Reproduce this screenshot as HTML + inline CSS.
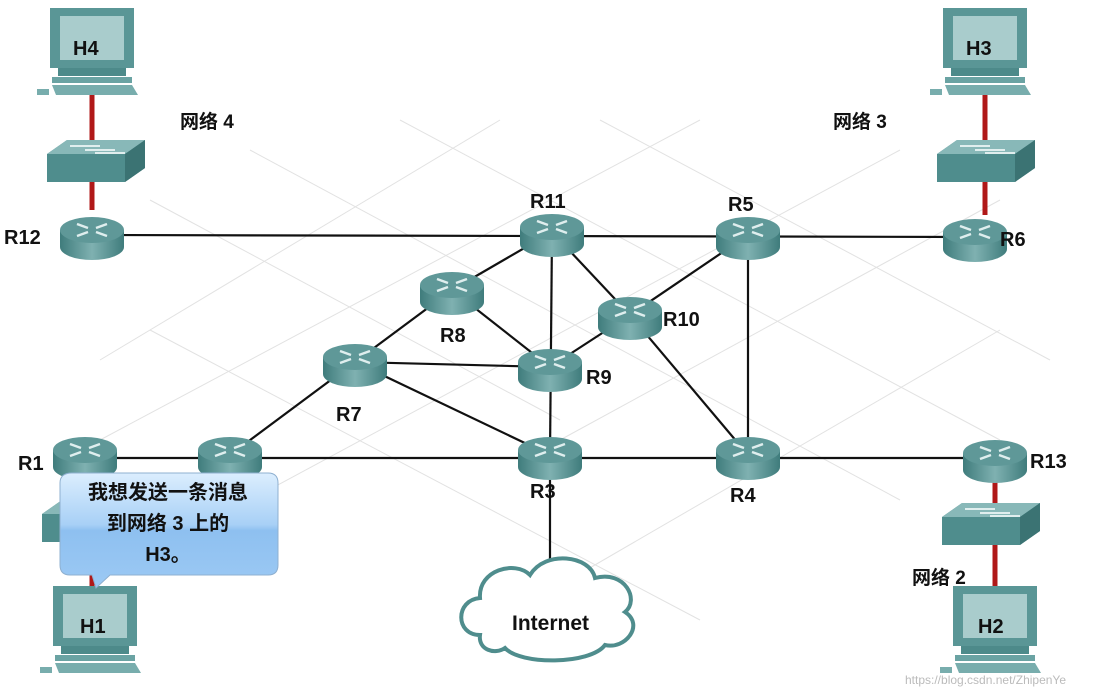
<!DOCTYPE html>
<html><head><meta charset="utf-8"><style>
body{margin:0;background:#fff}
svg text{font-family:"Liberation Sans","Noto Sans CJK SC",sans-serif;font-weight:bold}
</style></head><body>
<svg width="1113" height="692" viewBox="0 0 1113 692" xmlns="http://www.w3.org/2000/svg">
<defs>
<linearGradient id="rb" x1="0" x2="1"><stop offset="0" stop-color="#3f7c7c"/><stop offset=".5" stop-color="#7fb1b1"/><stop offset="1" stop-color="#3f7c7c"/></linearGradient>
<linearGradient id="cb" x1="0" y1="0" x2="0" y2="1"><stop offset="0" stop-color="#dceefe"/><stop offset=".45" stop-color="#a8d0f6"/><stop offset=".5" stop-color="#8ec0f0"/><stop offset="1" stop-color="#9cc9f4"/></linearGradient>
<g id="rt">
<path d="M-32,-7 L-32,10 A32,13 0 0 0 32,10 L32,-7 Z" fill="url(#rb)"/>
<ellipse cx="0" cy="-7" rx="32" ry="13" fill="#5f9898"/>
<path d="M-15,-13 L-4,-9 M4,-5 L15,-1 M15,-13 L4,-9 M-4,-5 L-15,-1" stroke="#dfeeee" stroke-width="2.5"/>
</g>
<g id="sw">
<path d="M-48,-8 L-28,-22 L50,-22 L50,6 L30,20 L-48,20 Z" fill="#4f8d8d"/>
<path d="M-48,-8 L-28,-22 L50,-22 L30,-8 Z" fill="#88b8b8"/>
<path d="M30,-8 L50,-22 L50,6 L30,20 Z" fill="#3b7373"/>
<path d="M-25,-16 L5,-16 M-10,-12 L20,-12 M0,-9 L30,-9" stroke="#e0eeee" stroke-width="2"/>
</g>
<g id="pc">
<rect x="-42" y="-42" width="84" height="60" fill="#5a9696"/>
<rect x="-32" y="-34" width="64" height="44" fill="#a9cccc"/>
<rect x="-34" y="18" width="68" height="8" fill="#4d8a8a"/>
<rect x="-40" y="27" width="80" height="6" fill="#6aa3a3"/>
<path d="M-40,35 L40,35 L46,45 L-36,45 Z" fill="#78adad"/>
<rect x="-55" y="39" width="12" height="6" fill="#78adad"/>
</g>
</defs>
<g stroke="#e2e2e2" stroke-width="1" fill="none">
<path d="M150,200 L560,420 M250,150 L900,500 M400,120 L1000,440 M150,330 L700,620 M600,120 L1050,360"/>
<path d="M1000,200 L560,440 M900,150 L250,500 M700,120 L100,440 M1000,330 L500,620 M500,120 L100,360"/>
</g>
<g stroke="#b01818" stroke-width="5">
<line x1="92" y1="95" x2="92" y2="210"/><line x1="985" y1="95" x2="985" y2="215"/>
<line x1="995" y1="480" x2="995" y2="600"/><line x1="92" y1="480" x2="92" y2="600"/>
</g>
<g stroke="#111" stroke-width="2.2">
<line x1="92" y1="235" x2="975" y2="237"/>
<line x1="552" y1="232" x2="452" y2="290"/>
<line x1="552" y1="232" x2="550" y2="455"/>
<line x1="552" y1="232" x2="630" y2="315"/>
<line x1="748" y1="235" x2="630" y2="315"/>
<line x1="748" y1="235" x2="748" y2="455"/>
<line x1="452" y1="290" x2="355" y2="362"/>
<line x1="452" y1="290" x2="550" y2="367"/>
<line x1="355" y1="362" x2="550" y2="367"/>
<line x1="355" y1="362" x2="550" y2="455"/>
<line x1="355" y1="362" x2="230" y2="455"/>
<line x1="630" y1="315" x2="550" y2="367"/>
<line x1="630" y1="315" x2="748" y2="455"/>
<line x1="85" y1="458" x2="995" y2="458"/>
<line x1="550" y1="455" x2="550" y2="560"/>
</g>
<use href="#pc" x="92" y="50"/><use href="#pc" x="985" y="50"/>
<use href="#pc" x="95" y="628"/><use href="#pc" x="995" y="628"/>
<use href="#sw" x="95" y="162"/><use href="#sw" x="985" y="162"/>
<use href="#sw" x="990" y="525"/><use href="#sw" x="90" y="522"/>
<use href="#rt" x="92" y="237"/><use href="#rt" x="552" y="234"/><use href="#rt" x="748" y="237"/>
<use href="#rt" x="975" y="239"/><use href="#rt" x="452" y="292"/><use href="#rt" x="630" y="317"/>
<use href="#rt" x="355" y="364"/><use href="#rt" x="550" y="369"/><use href="#rt" x="85" y="457"/>
<use href="#rt" x="230" y="457"/><use href="#rt" x="550" y="457"/><use href="#rt" x="748" y="457"/>
<use href="#rt" x="995" y="460"/>
<path d="M480,635 C455,635 455,600 480,598 C478,570 515,560 530,575 C545,550 590,555 595,578 C625,570 640,600 625,612 C645,625 625,650 605,645 C590,665 520,665 505,648 C495,655 478,650 480,635 Z" fill="#fff" stroke="#4f8d8d" stroke-width="4"/>
<g font-size="20" fill="#111">
<text x="73" y="55">H4</text><text x="966" y="55">H3</text>
<text x="80" y="633">H1</text><text x="978" y="633">H2</text>
<text x="180" y="128" font-size="19">网络 4</text><text x="833" y="128" font-size="19">网络 3</text>
<text x="912" y="584" font-size="19">网络 2</text>
<text x="4" y="244">R12</text><text x="530" y="208">R11</text><text x="728" y="211">R5</text>
<text x="1000" y="246">R6</text><text x="440" y="342">R8</text><text x="663" y="326">R10</text>
<text x="586" y="384">R9</text><text x="336" y="421">R7</text><text x="18" y="470">R1</text>
<text x="530" y="498">R3</text><text x="730" y="502">R4</text><text x="1030" y="468">R13</text>
<text x="512" y="630" font-size="21">Internet</text>
</g>
<path d="M72,473 L268,473 Q278,473 278,483 L278,565 Q278,575 268,575 L110,575 L96,588 L92,575 L70,575 Q60,575 60,565 L60,483 Q60,473 72,473 Z" fill="url(#cb)" stroke="#8fb0d0" stroke-width="1"/>
<g font-size="20" fill="#111" text-anchor="middle">
<text x="168" y="499">我想发送一条消息</text>
<text x="168" y="530">到网络 3 上的</text>
<text x="168" y="561">H3。</text>
</g>
<text x="905" y="684" font-size="12" fill="#bbb" style="font-weight:normal">https://blog.csdn.net/ZhipenYe</text>
</svg>
</body></html>
